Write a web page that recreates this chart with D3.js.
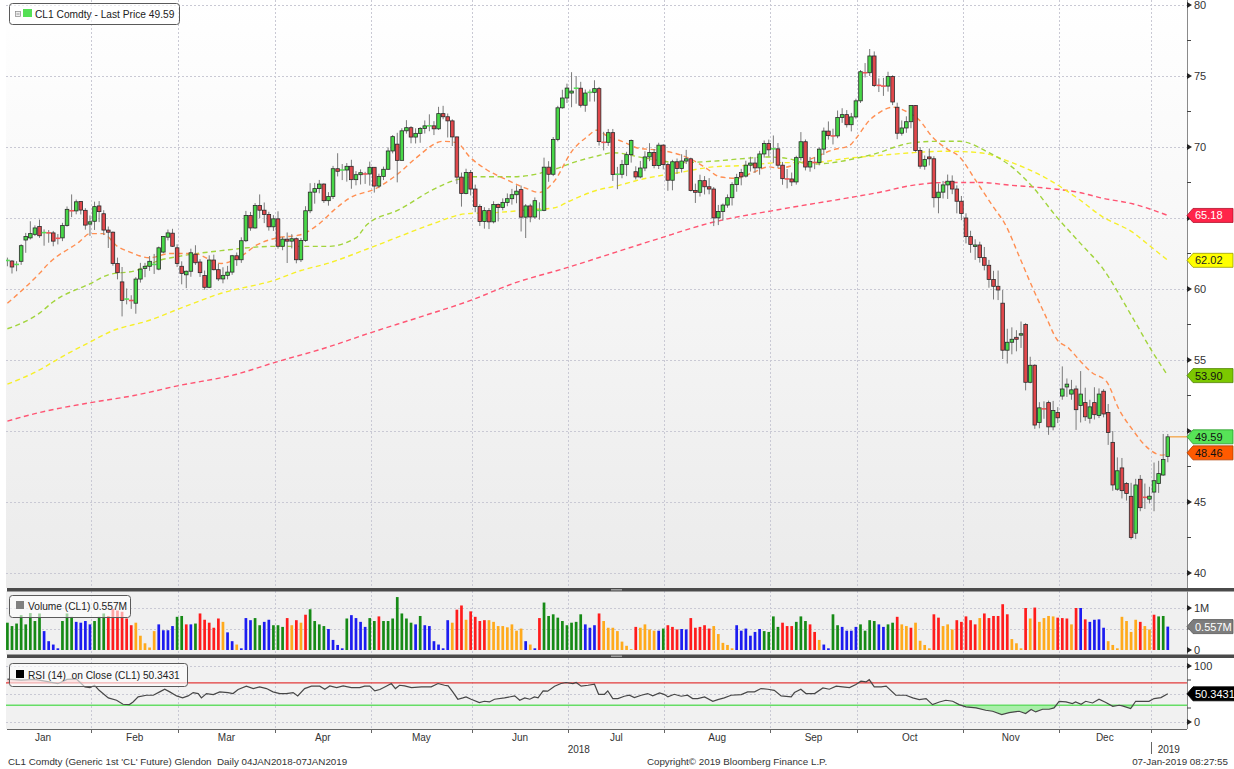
<!DOCTYPE html>
<html><head><meta charset="utf-8">
<script src="https://cdn.jsdelivr.net/npm/d3@7"></script>
<style>
html,body{margin:0;padding:0;background:#fff;}
svg{display:block;font-family:"Liberation Sans",Arial,sans-serif;}
</style></head><body>
<svg id="chart" width="1234" height="769"></svg>
<script>
// ---------- DATA ----------
const opens=[61.98,61.97,61.70,61.95,63.45,63.60,63.85,64.40,63.95,63.97,63.95,63.60,63.60,64.48,65.58,65.50,66.16,65.54,64.57,
64.77,65.85,65.30,64.15,64.00,61.80,60.50,59.25,59.22,59.00,60.70,61.45,61.60,61.70,61.40,62.60,63.65,63.93,62.90,
61.60,61.00,61.25,62.45,61.90,60.95,60.12,62.04,61.36,60.71,60.96,61.19,62.34,62.06,63.40,65.17,64.30,65.88,65.55,65.25,64.38,
64.94,63.01,63.51,63.37,63.54,62.06,63.42,65.51,66.82,67.07,67.39,66.22,66.52,68.47,68.29,68.38,68.64,67.70,68.05,68.19,68.10,
68.57,67.25,67.93,68.43,69.72,70.20,69.06,71.14,71.36,70.70,70.96,71.31,71.47,71.49,71.28,72.35,72.13,71.84,70.71,67.88,66.73,68.21,
67.04,65.81,64.75,65.52,64.73,65.95,65.74,66.10,66.36,66.64,67.00,65.06,65.85,65.07,65.45,65.54,68.58,68.08,70.53,72.76,73.45,
73.80,74.10,74.14,72.94,73.80,73.85,74.11,70.38,70.33,71.01,68.04,68.08,68.76,69.46,68.26,67.89,68.52,69.30,69.61,68.69,70.13,
68.76,67.66,68.96,68.49,69.01,69.17,66.94,66.81,67.63,67.20,67.04,65.01,65.46,65.91,66.43,67.35,68.20,67.95,68.72,68.87,68.53,69.51,70.25,
69.80,69.87,68.72,67.77,67.75,67.54,69.25,70.37,68.59,68.99,68.91,69.85,71.12,70.80,70.78,72.08,72.28,71.57,72.12,
73.25,75.30,75.23,76.41,74.40,74.34,74.29,74.96,72.80,70.97,71.34,71.78,72.92,69.75,68.65,69.30,69.17,66.43,66.82,67.33,67.59,67.04,66.18,
65.00,63.69,63.00,63.10,62.21,61.67,60.67,60.19,59.00,55.69,56.25,56.60,56.75,57.50,53.43,54.63,50.60,51.60,52.00,50.29,51.30,
52.46,53.10,52.60,52.96,51.80,52.00,50.90,52.00,51.10,52.80,51.30,49.20,45.90,47.40,46.30,45.40,42.80,46.60,45.40,45.20,
45.70,46.30,46.90,48.20];
const highs=[62.21,62.04,61.96,63.15,63.95,64.77,64.48,64.89,64.20,64.15,64.09,63.87,64.66,65.81,66.66,66.30,66.19,65.69,65.18,
66.15,66.19,65.55,64.40,64.05,62.21,61.55,60.04,59.56,60.83,61.84,61.84,62.32,62.47,62.99,63.73,64.19,64.24,63.15,
61.95,61.30,62.84,63.08,62.10,61.30,62.37,62.42,61.78,61.53,61.63,62.40,62.57,63.64,65.50,65.43,66.05,66.66,66.09,65.44,65.20,
65.47,63.67,63.98,63.86,63.63,63.59,65.83,67.45,67.47,67.68,67.44,66.82,68.67,69.56,68.80,68.87,69.10,68.30,68.42,68.25,68.97,
68.58,68.12,68.62,69.97,70.84,71.00,71.32,71.89,71.47,71.32,71.40,71.87,72.30,71.82,72.83,72.90,72.36,71.95,70.73,68.20,68.47,68.38,
67.35,65.96,65.76,65.70,66.18,66.02,66.38,66.73,67.05,67.30,67.28,65.98,66.00,66.45,66.10,69.25,69.00,70.70,72.90,74.03,74.46,
75.27,75.00,74.59,74.05,74.05,74.70,74.23,71.07,71.27,71.27,68.60,69.09,69.66,70.53,68.64,69.02,69.70,70.27,69.86,70.30,70.20,
68.90,69.10,69.19,69.49,69.80,69.25,67.42,68.05,67.95,67.81,67.18,65.92,66.02,66.66,67.52,68.11,68.46,69.03,69.31,69.28,69.73,70.46,70.52,
70.81,70.28,68.95,68.45,68.20,69.38,71.05,70.53,69.30,69.28,69.97,71.37,71.80,71.29,72.57,72.73,72.60,72.40,73.40,
75.42,75.91,76.90,76.73,74.83,74.87,75.30,75.05,73.12,71.87,72.16,72.95,72.95,70.00,69.40,69.89,69.35,67.43,67.61,68.06,68.00,67.30,66.55,
65.33,64.10,63.50,63.33,62.96,62.05,61.28,61.30,59.93,57.20,57.30,57.10,57.71,57.60,55.23,54.70,52.03,52.09,52.14,52.12,51.68,
54.55,53.70,53.60,53.20,54.22,53.05,52.20,53.08,53.00,52.95,51.90,50.00,48.14,48.10,46.40,46.35,46.63,46.90,46.30,46.07,
47.78,47.90,49.79,49.79];
const lows=[61.60,61.09,61.25,61.70,62.55,63.49,63.73,63.60,63.05,63.26,63.01,63.14,63.37,64.39,65.06,65.26,65.25,64.18,63.74,
64.16,64.71,63.80,62.89,61.64,60.68,58.07,58.92,58.60,58.26,60.45,60.83,61.28,61.06,61.32,62.51,63.42,62.96,61.55,
60.33,60.06,60.86,61.70,60.85,59.95,60.06,61.31,60.56,60.40,60.68,61.00,61.63,61.84,63.30,64.10,64.25,65.00,64.64,64.11,64.09,
62.84,62.73,61.83,62.86,61.81,61.90,63.32,65.34,66.01,66.74,66.06,65.87,66.34,67.93,67.67,67.56,67.06,67.30,67.36,67.40,67.28,
66.79,67.10,67.67,68.40,69.55,67.51,69.05,70.94,70.26,70.25,70.30,70.95,71.11,70.84,71.20,71.95,70.67,70.07,67.39,65.80,66.67,66.59,
65.41,64.44,64.25,64.22,64.62,64.76,65.54,65.83,65.94,66.04,64.05,63.59,64.70,64.95,64.88,65.48,67.55,67.95,70.40,72.70,73.10,
72.80,73.05,72.78,72.48,73.20,73.20,70.10,69.76,70.08,67.61,67.03,67.80,67.95,68.90,67.71,67.80,68.30,69.00,68.50,68.45,68.42,
66.92,66.95,68.10,68.20,68.80,66.87,66.06,66.51,66.66,66.67,64.43,64.50,64.82,65.72,65.88,66.85,67.30,67.85,68.27,68.18,68.05,69.25,69.34,
68.86,68.53,67.34,67.09,67.25,67.35,69.05,68.35,68.26,68.44,68.71,69.44,70.52,70.18,70.62,71.70,71.37,71.10,72.00,
73.10,74.90,75.00,74.23,73.87,73.60,73.90,72.95,70.55,70.80,71.00,71.32,69.66,68.47,68.40,68.70,65.74,65.33,66.37,66.34,66.68,65.33,64.85,
63.21,62.55,62.05,61.86,61.31,60.09,59.26,59.22,55.07,54.75,55.40,55.61,55.85,52.86,53.36,50.15,50.19,50.86,49.73,50.05,50.56,
52.20,52.40,52.20,50.08,50.60,50.71,50.53,50.81,50.91,50.96,49.02,45.79,45.79,45.25,45.10,42.36,42.40,44.35,44.51,44.90,
44.35,45.64,46.84,47.80];
const closes=[62.01,61.55,61.73,63.05,63.70,63.90,64.30,63.75,63.97,63.95,63.37,63.57,64.47,65.61,65.51,66.14,65.56,64.50,64.73,
65.80,65.45,64.15,64.00,61.80,61.15,59.20,59.29,59.19,60.70,61.40,61.60,61.95,61.73,62.90,63.70,63.95,63.01,61.80,
61.10,61.25,62.55,61.85,61.15,60.12,62.04,61.36,60.71,60.96,61.19,62.34,62.06,63.40,65.17,64.30,65.88,65.55,65.25,64.38,64.94,
63.01,63.51,63.37,63.54,62.06,63.42,65.51,66.82,67.07,67.39,66.22,66.52,68.47,68.29,68.38,68.64,67.70,68.05,68.19,68.10,68.57,
67.25,67.93,68.43,69.72,70.73,69.06,71.14,71.36,70.70,70.96,71.31,71.49,71.49,71.28,72.35,72.13,71.84,70.71,67.88,66.73,68.21,67.04,
65.81,64.75,65.52,64.73,65.95,65.74,66.10,66.36,66.64,66.89,65.06,65.85,65.07,66.22,65.54,68.58,68.08,70.53,72.76,73.45,74.15,
73.94,74.14,72.94,73.80,73.85,74.11,70.38,70.33,71.01,68.06,68.08,68.76,69.46,70.46,67.89,68.52,69.30,69.61,68.69,70.13,68.76,
67.66,68.96,68.49,69.01,69.17,66.94,66.81,67.63,67.20,67.04,65.01,65.46,65.91,66.43,67.35,67.86,67.90,68.72,68.87,68.53,69.51,70.25,69.80,
69.87,68.72,67.77,67.75,67.54,69.25,70.37,68.59,68.99,68.91,69.85,71.12,70.80,70.78,72.08,72.28,71.57,72.12,73.25,
75.30,75.23,76.41,74.33,74.34,74.29,74.96,73.17,70.97,71.34,71.78,72.92,69.75,68.65,69.12,69.17,66.43,66.82,67.33,67.59,67.04,66.18,65.31,
63.69,63.14,63.10,62.21,61.67,60.67,60.19,59.93,55.69,56.25,56.46,56.46,56.85,53.43,54.63,50.42,51.63,51.56,50.29,51.45,50.93,
52.96,53.30,52.90,51.50,52.60,51.00,51.70,51.15,52.60,51.20,49.90,46.20,47.20,45.80,45.60,42.50,46.20,44.60,45.33,45.41,
46.50,47.00,48.00,49.59];

// volume in millions, one per candle
const volumes=[.65,.57,.63,.83,.61,.88,.69,.87,.45,.21,.13,.04,.69,.87,.79,.67,.65,.69,.61,.69,.79,.87,
.81,.98,.94,.91,.75,.59,.65,.34,.16,.06,.45,.61,.47,.47,.57,.79,.81,.61,.61,.63,.87,.72,.65,.53,.75,
.67,.42,.21,.13,.04,.76,.71,.76,.59,.67,.72,.59,.59,.55,.76,.59,.71,.65,.84,.97,.69,.61,.57,.50,.24,.12,.04,
.75,.83,.76,.67,.55,.76,.69,.80,.69,.69,.75,1.26,
.87,.75,.65,.61,.81,.59,.57,.21,.13,.04,.71,.65,.96,1.06,.72,.92,.79,.69,.71,.71,.67,.57,.57,.54,.61,.46,.51,
.21,.13,.04,.76,1.13,.81,.85,.77,.69,.59,.65,.67,.85,.61,.53,.59,.87,.69,.53,.53,.45,.20,.10,.02,.55,.53,.61,.49,.46,
.46,.51,.59,.55,.49,.50,.49,.76,.53,.55,.59,.51,.57,.38,.17,.12,.04,.59,.46,.51,.34,.43,.50,.45,.43,.80,.55,.65,.57,
.57,.67,.80,.69,.61,.43,.24,.13,.04,.85,.59,.55,.46,.46,.55,.61,.46,.71,.69,.61,.55,.61,.65,.79,.61,.57,.53,.65,.22,.12,.04,
.85,.77,.57,.61,.49,.71,.67,.80,.71,.61,.76,.87,.76,.81,.81,1.09,.85,.26,.16,.04,1.00,.75,1.01,.67,.76,.81,.80,.77,.76,.75,.61,
1.00,1.00,.73,.67,.72,.73,.53,.21,.12,.04,.79,.69,.43,.72,.67,.57,.49,.84,.80,.81,.557];
// volume bar colour codes: g=green b=blue r=red o=orange
const volColorCodes=("gggggggg"+"bbbb"+"ggg"+"bbbb"+"ggg"+"rrrrrr"+"ooooo"+"bbbb"+"gg"+"r"+"b"+"g"+"rrrrr"+"o"+"bb"+"o"+"bbb"+"gg"+"bb"+"ggg"+"roror"+"gggg"+"bbbb"+"g"+"bbbb"+"gg"+"r"+"gggg"
+"ggg"+"b"+"g"+"bbbbbb"+"o"+"rr"+"o"+"rrrr"+"oooooooo"+"b"+"o"+"b"+"r"+"ggggggggg"+"bbb"+"r"+"ooooooo"+"r"+"oooo"+"b"+"g"+"rrr"+"bb"+"rrrrr"+"ooooo"+"bbbbbb"+"gggg"+"rr"
+"r"+"ggg"+"rr"+"o"+"bb"+"gg"+"bbbb"+"gggg"+"bb"+"gg"+"r"+"oo"+"r"+"oooo"+"rr"+"ooo"+"rrrrr"+"o"+"rrrrrr"+"ooo"+"r"+"o"+"r"+"oooo"+"rrr"+"o"+"r"+"b"+"r"+"bbbb"+"ooooooo"+"r"+"oo"+"r"+"gg"+"b").split("");

// moving averages, [trading-day index, value]
const maOrange=[[0,59.0],[7,61.1],[9,61.8],[15.6,63.3],[18,63.9],[20.8,63.9],[24,63.0],[26.7,62.6],[31,62.2],[35.4,62.5],[40.6,62.5],[46.6,61.8],[50.9,62.3],[54.4,63.1],[58.7,63.6],[63.7,63.8],[68,64.6],[71,65.5],[74.6,66.4],[80.5,67.1],[85.5,68.2],[89,69.2],[95,70.4],[98,70.3],[100.8,69.3],[104.5,68.4],[108.8,67.7],[113,67.1],[116,66.8],[119,67.5],[123.3,69.8],[126.3,70.7],[128.7,71.2],[130.6,70.8],[134,70.4],[137.8,69.9],[141.5,69.8],[145,69.6],[148.7,69.2],[152.4,68.5],[155.3,67.9],[159,67.8],[162.5,68.2],[166,68.6],[168.3,68.5],[171.2,68.7],[175.5,69.2],[180,69.8],[183.6,70.1],[185,70.6],[188,71.9],[190,72.4],[193,72.8],[196,72.5],[198.8,71.9],[201.7,70.7],[204.7,69.9],[207.6,69.3],[211,67.7],[214.7,65.9],[217.8,64.4],[220.6,62.3],[223.5,60.1],[226.5,58.0],[228.7,56.5],[231.5,55.8],[233.7,55.0],[236.5,54.1],[239.6,53.5],[242.4,51.5],[245.3,50.1],[248.3,48.9],[251.8,48.3],[253,48.46]];
const maGreen=[[0,57.2],[7,58.3],[10,59.1],[18.2,60.4],[22,61.0],[28,61.3],[33,62.0],[37.4,62.3],[46.6,62.7],[58,63.0],[63.7,63.0],[69.8,63.0],[76,63.6],[78.3,64.5],[85.5,65.6],[92.8,67.0],[98,67.7],[101.5,67.9],[110,67.9],[119,68.4],[123.3,68.9],[129,69.4],[132,69.6],[139.3,69.2],[146.5,68.9],[153.8,69.0],[161,69.2],[165.5,69.3],[169.9,69.2],[175,68.8],[180,68.9],[185,69.2],[190,69.6],[194.5,70.1],[197.3,70.3],[203,70.4],[207.6,70.4],[214,69.6],[219,68.6],[223.5,67.2],[228.7,65.1],[233.7,63.3],[238.7,61.5],[245.3,58.0],[249.6,55.6],[253,53.9]];
const maYellow=[[0,53.3],[7,54.3],[11.2,55.1],[18.2,56.3],[22.5,57.0],[31,57.8],[37.4,58.6],[46.6,59.7],[58,60.6],[64,61.3],[69.8,61.8],[78.3,62.8],[85.5,63.7],[92.8,64.6],[100,65.3],[107.3,65.4],[114.5,65.6],[119,65.7],[123.3,66.3],[129,67.0],[132,67.2],[139.3,67.8],[146.5,68.2],[153.8,68.6],[161,68.7],[168.3,68.9],[175.5,68.9],[183,69.2],[190,69.4],[197.3,69.6],[204.7,69.7],[212,69.6],[219,68.9],[226.5,67.8],[233.7,66.3],[238.7,65.1],[245.3,64.0],[249.6,62.9],[253,62.02]];
const maRed=[[0,50.7],[7,51.3],[18.2,52.0],[27.6,52.5],[37.4,53.2],[50,54.0],[58,54.8],[69.8,55.9],[79,56.9],[89.7,58.0],[101,59.2],[110.4,60.4],[122,61.5],[132.7,62.6],[141.5,63.5],[153.8,64.7],[168.3,65.6],[183,66.4],[190,66.8],[197.3,67.3],[204.7,67.5],[212,67.5],[219,67.3],[226.5,67.1],[233.7,66.8],[238.7,66.4],[245.3,66.0],[253,65.18]];

// RSI(14), [trading-day index, value]
const rsiPts=[[0,76.5],[3,74.7],[6,76],[8.5,72.6],[11,68.4],[13,76],[15,77],[16.9,62.6],[18,61.4],[19,65.6],[20,56.6],[22,43],[23.8,38.8],[25.2,31.7],[26.6,31.1],[27.4,35.8],[28.5,44.8],[30.3,47.8],[31.8,47.8],[33.2,53.8],[34.3,58.5],[35.4,53.8],[36.9,46.6],[38.2,43],[39.4,46.6],[40.5,52.6],[41.6,50.8],[42.3,43],[43.4,50.8],[44.9,49],[46.3,53.8],[48.1,52.6],[49.2,50.8],[50.3,58],[52.1,64],[53.6,59.7],[55,62.7],[56.5,59.7],[57.9,53.8],[59.4,50.8],[60.8,50.8],[62.3,52.6],[63.3,46.6],[64.8,59.7],[66.3,64],[68.1,64],[69.2,58.5],[70.3,64.5],[71.8,61.5],[73.2,64.5],[75,61.5],[76.8,61.5],[77.9,64],[79,64],[80.1,55.6],[81.2,58],[82.6,64],[83.7,68.7],[84.6,59.7],[85.5,65.6],[86.6,64.5],[88.1,61.5],[90.3,62.7],[92.4,62.7],[93.9,68.7],[95.3,65.6],[96.1,64.5],[97.1,53.8],[98.2,40.7],[99.3,43],[100,44.8],[101.1,40.7],[102.9,34.7],[104,37],[105.1,35.8],[106.2,40.7],[108.4,43],[110.6,46.6],[111.7,38.8],[112.8,43],[113.9,40.7],[114.9,44.8],[115.7,43],[116.8,55.6],[117.8,55],[119.3,64],[120.7,68.7],[121.8,70.5],[123.3,68.7],[124,70.5],[125.1,64],[126.6,65.6],[128,67.4],[128.9,49.5],[130.2,49.5],[130.9,55.6],[132,41.8],[133.1,41.8],[134.5,46],[135.6,47.8],[136.7,43.6],[138.2,47.8],[139.6,50.8],[140.7,46.6],[142.2,52],[143.3,49],[144,44.8],[145.4,49.5],[146.9,46],[148.3,47.8],[149.4,41.8],[150.5,41.8],[152,44.8],[153.8,37],[154.9,40],[156.3,43],[157.8,47.8],[160,49],[161.4,53.8],[162.9,53.8],[164.3,59.7],[165.8,58.5],[167.2,56.6],[168.7,46.6],[170.9,44.8],[171.6,52.6],[173,58.5],[174.1,50.8],[176,50.8],[177.8,60.9],[179.2,58.5],[180.7,64],[182.1,62.7],[183.6,61.5],[185,66.8],[186.1,72.8],[187.2,71.5],[187.9,75.6],[189,62.7],[190.5,62.7],[191.6,64],[193.7,47.8],[195.9,47.8],[197.4,43],[198.8,40],[200.3,41.8],[201.7,31.1],[203.2,35.8],[204.6,38.8],[206.1,37],[207.5,31.1],[209,26.9],[211.2,25.1],[213.3,21],[214.8,19.2],[216.8,13.2],[218.4,16.8],[220.6,19.2],[222,15],[223.2,22.2],[224.2,18],[225.7,22.8],[227.1,22.8],[228.2,25.1],[229.3,37],[230.8,35.8],[232.2,32.9],[232.9,35.8],[234.1,31.7],[235.1,37],[236.6,34],[238,40.7],[239.5,34.7],[241,28.1],[242.4,29.9],[243.1,28.7],[244.9,23.9],[246,37],[247.5,37],[248.9,37],[250,41.8],[251.5,43.6],[253,50.34]];

// axis labels
const monthLabels=["Jan","Feb","Mar","Apr","May","Jun","Jul","Aug","Sep","Oct","Nov","Dec"];
const monthStartIdx=[-2,19,38,59,80,102,123,144,167,186,209,230,250]; // index of first trading day of each month
const priceTicks=[40,45,50,55,60,65,70,75,80];
const volTicks=[{v:0,t:"0"},{v:1,t:"1M"}];
const rsiTicks=[{v:0,t:"0"},{v:100,t:"100"}];
const lastPrice=49.59, lastVolume="0.557M", lastRsi="50.3431";
const priceTags=[{v:65.18,bg:"#ff2449",fg:"#ffffff",st:"#b0102a"},{v:62.02,bg:"#ffff00",fg:"#222",st:"#9a9a00"},{v:53.90,bg:"#7cc800",fg:"#111",st:"#4e8000"},{v:49.59,bg:"#57e357",fg:"#111",st:"#2a9a2a"},{v:48.46,bg:"#ff5a00",fg:"#111",st:"#b03c00"}];

// ---------- DRAWING ----------
const svg=d3.select("#chart");
const L=6, R=1187;
const x=d3.scaleLinear().domain([0,253]).range([7.4,1167.8]);
const yP=d3.scaleLinear().domain([40,80]).range([573,5]);
const yV=d3.scaleLinear().domain([0,1]).range([650,608]);
const yR=d3.scaleLinear().domain([0,100]).range([722,666]);
const bnd=i=>x(i)-3.4;

const defs=svg.append("defs");
const g1=defs.append("linearGradient").attr("id","pbg").attr("x1",0).attr("y1",0).attr("x2",0).attr("y2",1);
g1.append("stop").attr("offset","0%").attr("stop-color","#ffffff");
g1.append("stop").attr("offset","100%").attr("stop-color","#ebebeb");
[["cp",0,588],["cv",592,63],["cr",658,71]].forEach(([id,y0,h])=>{
  defs.append("clipPath").attr("id",id).append("rect").attr("x",L).attr("y",y0).attr("width",R-L).attr("height",h);
});

// panel backgrounds
svg.append("rect").attr("x",L).attr("y",0).attr("width",R-L).attr("height",588).attr("fill","url(#pbg)");
svg.append("rect").attr("x",L).attr("y",591).attr("width",R-L).attr("height",64).attr("fill","#f0f0f0");
svg.append("rect").attr("x",L).attr("y",658).attr("width",R-L).attr("height",71).attr("fill","#f1f1f1");

const grid=svg.append("g").attr("stroke","#c9c9d4").attr("stroke-width",1).attr("stroke-dasharray","2,2").attr("fill","none");
monthStartIdx.slice(1).forEach(i=>{
  const xx=Math.round(bnd(i))+0.5;
  [[0,588],[591,655],[658,729]].forEach(([a,b])=>grid.append("line").attr("x1",xx).attr("x2",xx).attr("y1",a).attr("y2",b));
});
priceTicks.forEach(v=>{const yy=Math.round(yP(v))+0.5;grid.append("line").attr("x1",L).attr("x2",R).attr("y1",yy).attr("y2",yy);});
[0.5,1].forEach(v=>{const yy=Math.round(yV(v))+0.5;grid.append("line").attr("x1",L).attr("x2",R).attr("y1",yy).attr("y2",yy);});
[0,50,100].forEach(v=>{const yy=Math.round(yR(v))+0.5;grid.append("line").attr("x1",L).attr("x2",R).attr("y1",yy).attr("y2",yy);});

// moving averages
const pg=svg.append("g").attr("clip-path","url(#cp)");
const maLine=d3.line().x(d=>x(d[0])).y(d=>yP(d[1])).curve(d3.curveMonotoneX);
[[maRed,"#ff5573"],[maYellow,"#f6ef2a"],[maGreen,"#a2d43c"],[maOrange,"#ff8f52"]].forEach(([d,c])=>{
  pg.append("path").attr("d",maLine(d)).attr("fill","none").attr("stroke",c).attr("stroke-width",1.4).attr("stroke-dasharray","5,3.5");
});

// candles
const up="#48d848", dn="#e0474b";
const cg=pg.append("g");
closes.forEach((c,i)=>{
  const o=opens[i], h=highs[i], l=lows[i], xx=x(i);
  cg.append("line").attr("x1",xx).attr("x2",xx).attr("y1",yP(h)).attr("y2",yP(l)).attr("stroke","#7a7a7a").attr("stroke-width",1);
  const y1=yP(Math.max(o,c)), y2=yP(Math.min(o,c));
  if(y2-y1<1.3){
    cg.append("line").attr("x1",xx-2.4).attr("x2",xx+2.4).attr("y1",yP(c)).attr("y2",yP(c)).attr("stroke",c>=o?"#55e055":"#f05555").attr("stroke-width",1.6);
  } else {
    cg.append("rect").attr("x",xx-1.8).attr("width",3.6).attr("y",y1).attr("height",y2-y1).attr("fill",c>=o?up:dn).attr("stroke","#2a2a2a").attr("stroke-width",0.8);
  }
});
svg.append("line").attr("x1",x(253)+2).attr("x2",R).attr("y1",yP(lastPrice)).attr("y2",yP(lastPrice)).attr("stroke","#f3a446").attr("stroke-width",1.3);

// volume
const vcol={g:"#168a16",b:"#1c1cf0",r:"#ff1c1c",o:"#ffaa1c"};
const vg=svg.append("g").attr("clip-path","url(#cv)");
volumes.forEach((v,i)=>{
  vg.append("rect").attr("x",x(i)-1.35).attr("width",2.7).attr("y",yV(v)).attr("height",yV(0)-yV(v)).attr("fill",vcol[volColorCodes[i]]);
});

// RSI
const rg=svg.append("g").attr("clip-path","url(#cr)");
rg.append("path").attr("d",d3.area().x(d=>x(d[0])).y0(yR(30)).y1(d=>yR(Math.min(d[1],30)))(rsiPts)).attr("fill","#9cef9c").attr("opacity",0.85);
rg.append("path").attr("d",d3.area().x(d=>x(d[0])).y0(yR(70)).y1(d=>yR(Math.max(d[1],70)))(rsiPts)).attr("fill","#f4b4b4").attr("opacity",0.85);
rg.append("line").attr("x1",L).attr("x2",R).attr("y1",yR(70)).attr("y2",yR(70)).attr("stroke","#e23a3a").attr("stroke-width",1.2);
rg.append("line").attr("x1",L).attr("x2",R).attr("y1",yR(30)).attr("y2",yR(30)).attr("stroke","#66dd66").attr("stroke-width",1.4);
rg.append("path").attr("d",d3.line().x(d=>x(d[0])).y(d=>yR(d[1]))(rsiPts)).attr("fill","none").attr("stroke","#474747").attr("stroke-width",1.2);

// separators
svg.append("rect").attr("x",7).attr("y",588).attr("width",1227).attr("height",3.5).attr("fill","#4a4a4a");
svg.append("rect").attr("x",7).attr("y",654.5).attr("width",1227).attr("height",3.5).attr("fill","#4a4a4a");
svg.append("rect").attr("x",611).attr("y",589).attr("width",11).attr("height",1.5).attr("fill","#9a9a9a");
svg.append("rect").attr("x",611).attr("y",655.5).attr("width",11).attr("height",1.5).attr("fill","#9a9a9a");

// right axis
const ax=svg.append("g").attr("font-size","11px").attr("fill","#333");
[[0,588],[591,655],[658,729]].forEach(([a,b])=>ax.append("line").attr("x1",R+0.5).attr("x2",R+0.5).attr("y1",a).attr("y2",b).attr("stroke","#8a8a8a"));
const tri=(yy)=>ax.append("path").attr("d",`M${R},${yy-3}L${R+5},${yy}L${R},${yy+3}Z`).attr("fill","#222");
const minor=(yy)=>ax.append("line").attr("x1",R).attr("x2",R+4).attr("y1",yy).attr("y2",yy).attr("stroke","#444");
// labels hidden behind a value tag (as in the reference) are not drawn
const coveredByTag=v=>priceTags.some(t=>Math.abs(yP(t.v)-yP(v))<8);
priceTicks.forEach(v=>{const yy=yP(v);tri(yy);if(!coveredByTag(v))ax.append("text").attr("x",R+7).attr("y",yy).attr("dy","0.35em").text(v);});
priceTicks.slice(0,-1).forEach(v=>minor(yP(v+2.5)));
volTicks.forEach(d=>{const yy=yV(d.v);tri(yy);ax.append("text").attr("x",R+7).attr("y",yy).attr("dy","0.35em").text(d.t);});
minor(yV(0.5));
rsiTicks.forEach(d=>{const yy=yR(d.v);tri(yy);ax.append("text").attr("x",R+7).attr("y",yy).attr("dy","0.35em").text(d.t);});
[25,50,75].forEach(v=>minor(yR(v)));

// value tags
function tag(yy,txt,bg,fg,st,w){
  const x0=R, x1=R+(w||46);
  svg.append("path").attr("d",`M${x0},${yy}L${x0+6},${yy-7}L${x1},${yy-7}L${x1},${yy+7}L${x0+6},${yy+7}Z`).attr("fill",bg).attr("stroke",st).attr("stroke-width",0.8);
  svg.append("text").attr("x",x0+8).attr("y",yy).attr("dy","0.36em").attr("font-size","11px").attr("fill",fg).text(txt);
}
priceTags.forEach(t=>tag(yP(t.v),t.v.toFixed(2),t.bg,t.fg,t.st));
tag(yV(0.557),lastVolume,"#7d7d7d","#fff","#555");
tag(yR(50.3431),lastRsi,"#000","#fff","#000",47);

// legends
function legendBox(x0,y0,w,h){
  svg.append("rect").attr("x",x0+0.5).attr("y",y0+0.5).attr("width",w).attr("height",h).attr("rx",3).attr("fill","#ffffff").attr("fill-opacity",0.6).attr("stroke","#5a5a5a");
}
legendBox(9,3,170,21);
svg.append("rect").attr("x",15.5).attr("y",11.5).attr("width",5).attr("height",5).attr("fill","#eee").attr("stroke","#888").attr("stroke-width",0.7);
svg.append("line").attr("x1",16.5).attr("x2",19.5).attr("y1",14).attr("y2",14).attr("stroke","#777").attr("stroke-width",0.7);
svg.append("rect").attr("x",23).attr("y",9).attr("width",9).attr("height",8).attr("fill","#55e055");
svg.append("text").attr("x",35).attr("y",17.5).attr("font-size","10.2px").attr("fill","#222").text("CL1 Comdty - Last Price "+lastPrice.toFixed(2));

legendBox(9,595,121,22);
svg.append("rect").attr("x",16).attr("y",601).attr("width",8).attr("height",8).attr("fill","#808080");
svg.append("text").attr("x",28).attr("y",610).attr("font-size","10.2px").attr("fill","#222").text("Volume (CL1) "+lastVolume);

legendBox(9,663,178,23);
svg.append("rect").attr("x",16).attr("y",670).attr("width",8).attr("height",8).attr("fill","#000");
svg.append("text").attr("x",28).attr("y",679).attr("font-size","10.2px").attr("fill","#222").attr("xml:space","preserve").style("white-space","pre").text("RSI (14)  on Close (CL1) "+lastRsi);

// bottom axis
const bx=svg.append("g").attr("font-size","10px").attr("fill","#333");
bx.append("line").attr("x1",7).attr("x2",R).attr("y1",729.5).attr("y2",729.5).attr("stroke","#666");
monthStartIdx.slice(1).forEach(i=>{const xx=Math.round(bnd(i))+0.5;bx.append("line").attr("x1",xx).attr("x2",xx).attr("y1",729.5).attr("y2",733).attr("stroke","#666");});
monthLabels.forEach((m,k)=>{
  const cx=(bnd(monthStartIdx[k])+bnd(monthStartIdx[k+1]))/2;
  bx.append("text").attr("x",cx).attr("y",740.5).attr("text-anchor","middle").text(m);
});
const y2019=bnd(monthStartIdx[12]);
bx.append("text").attr("x",(7+y2019)/2).attr("y",752.5).attr("text-anchor","middle").text("2018");
bx.append("line").attr("x1",Math.round(y2019)+0.5).attr("x2",Math.round(y2019)+0.5).attr("y1",742).attr("y2",754).attr("stroke","#666");
bx.append("text").attr("x",(y2019+R)/2).attr("y",752.5).attr("text-anchor","middle").text("2019");

// footer
const ft=svg.append("g").attr("font-size","9.8px").attr("fill","#333");
ft.append("text").attr("x",8).attr("y",765).attr("xml:space","preserve").style("white-space","pre").text("CL1 Comdty (Generic 1st 'CL' Future) Glendon  Daily 04JAN2018-07JAN2019");
ft.append("text").attr("x",737).attr("y",765).attr("text-anchor","middle").text("Copyright\u00A9 2019 Bloomberg Finance L.P.");
ft.append("text").attr("x",1228).attr("y",765).attr("text-anchor","end").text("07-Jan-2019 08:27:55");
</script>
</body></html>
